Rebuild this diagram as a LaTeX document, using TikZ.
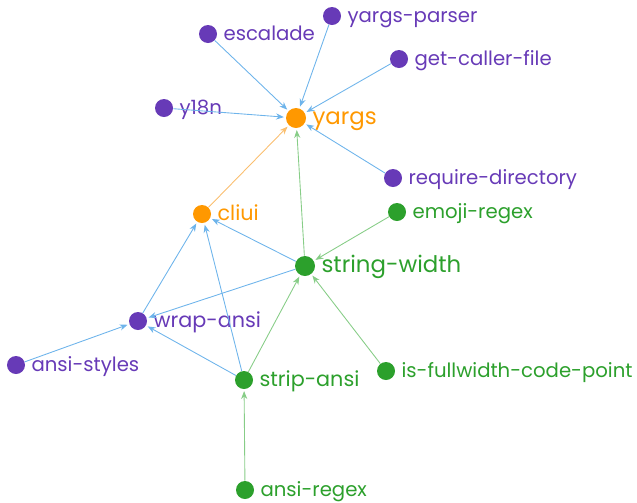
\documentclass[tikz,border=0pt]{standalone}
\usepackage{fontspec}
\setmainfont{Poppins}
\usetikzlibrary{arrows.meta}
\definecolor{pkgpurple}{RGB}{103,58,183}
\definecolor{pkgorange}{RGB}{255,152,0}
\definecolor{pkggreen}{RGB}{44,160,44}
\definecolor{edgeblue}{RGB}{110,180,235}
\definecolor{edgegreen}{RGB}{135,205,135}
\definecolor{edgeorange}{RGB}{250,190,110}
\begin{document}
\begin{tikzpicture}
[
    >={Stealth[length = 4.5pt, width = 3.5pt]},
    pkg/.style = {circle, fill = #1, inner sep = 0pt, minimum size = 0.36cm, label distance = 1pt},
    pkgname/.style = {text = #1, font = \fontsize{11.2}{13}\selectfont, text depth = 0pt, text height = 0.7em},
    bigname/.style = {font = \fontsize{11.8}{14}\selectfont},
    hugename/.style = {font = \fontsize{13}{16}\selectfont},
    dep/.style = {draw = #1, ->, line width = 0.5pt, shorten > = 1pt}
]
    \useasboundingbox (0, 0) rectangle (12.74, -10.04);

    \node[pkg = pkgorange, minimum size = 0.4cm, label = {[pkgname = pkgorange, hugename]right:yargs}] (yargs) at (5.92, -2.36) {};
    \node[pkg = pkgpurple, label = {[pkgname = pkgpurple]right:escalade}] (escalade) at ([xshift = -1.76cm, yshift = 1.68cm]yargs) {};
    \node[pkg = pkgpurple, label = {[pkgname = pkgpurple]right:yargs-parser}] (parser) at ([xshift = 0.72cm, yshift = 2.04cm]yargs) {};
    \node[pkg = pkgpurple, label = {[pkgname = pkgpurple]right:get-caller-file}] (callerfile) at ([xshift = 2.06cm, yshift = 1.18cm]yargs) {};
    \node[pkg = pkgpurple, label = {[pkgname = pkgpurple]right:y18n}] (y18n) at ([xshift = -2.64cm, yshift = 0.2cm]yargs) {};
    \node[pkg = pkgpurple, label = {[pkgname = pkgpurple]right:require-directory}] (requiredir) at ([xshift = 1.94cm, yshift = -1.2cm]yargs) {};
    \node[pkg = pkgorange, label = {[pkgname = pkgorange, bigname]right:cliui}] (cliui) at ([xshift = -1.88cm, yshift = -1.92cm]yargs) {};
    \node[pkg = pkggreen, minimum size = 0.4cm, label = {[pkgname = pkggreen, hugename]right:string-width}] (stringwidth) at ([xshift = 0.18cm, yshift = -2.96cm]yargs) {};
    \node[pkg = pkggreen, label = {[pkgname = pkggreen]right:emoji-regex}] (emoji) at ([xshift = 1.84cm, yshift = 1.08cm]stringwidth) {};
    \node[pkg = pkgpurple, label = {[pkgname = pkgpurple, bigname]right:wrap-ansi}] (wrapansi) at ([xshift = -3.34cm, yshift = -1.1cm]stringwidth) {};
    \node[pkg = pkgpurple, label = {[pkgname = pkgpurple]right:ansi-styles}] (ansistyles) at ([xshift = -2.44cm, yshift = -0.88cm]wrapansi) {};
    \node[pkg = pkggreen, label = {[pkgname = pkggreen, bigname]right:strip-ansi}] (stripansi) at ([xshift = -1.22cm, yshift = -2.28cm]stringwidth) {};
    \node[pkg = pkggreen, label = {[pkgname = pkggreen]right:is-fullwidth-code-point}] (fullwidth) at ([xshift = 1.62cm, yshift = -2.1cm]stringwidth) {};
    \node[pkg = pkggreen, label = {[pkgname = pkggreen]right:ansi-regex}] (ansiregex) at ([xshift = 0.02cm, yshift = -2.2cm]stripansi) {};

    \draw[dep = edgeblue] (escalade) -- (yargs);
    \draw[dep = edgeblue] (parser) -- (yargs);
    \draw[dep = edgeblue] (callerfile) -- (yargs);
    \draw[dep = edgeblue] (y18n) -- (yargs);
    \draw[dep = edgeblue] (requiredir) -- (yargs);
    \draw[dep = edgeorange] (cliui) -- (yargs);
    \draw[dep = edgegreen] (stringwidth) -- (yargs);
    \draw[dep = edgeblue] (stringwidth) -- (cliui);
    \draw[dep = edgeblue] (wrapansi) -- (cliui);
    \draw[dep = edgeblue] (stripansi) -- (cliui);
    \draw[dep = edgegreen] (emoji) -- (stringwidth);
    \draw[dep = edgegreen] (fullwidth) -- (stringwidth);
    \draw[dep = edgegreen] (stripansi) -- (stringwidth);
    \draw[dep = edgeblue] (stringwidth) -- (wrapansi);
    \draw[dep = edgeblue] (stripansi) -- (wrapansi);
    \draw[dep = edgeblue] (ansistyles) -- (wrapansi);
    \draw[dep = edgegreen] (ansiregex) -- (stripansi);
\end{tikzpicture}
\end{document}
